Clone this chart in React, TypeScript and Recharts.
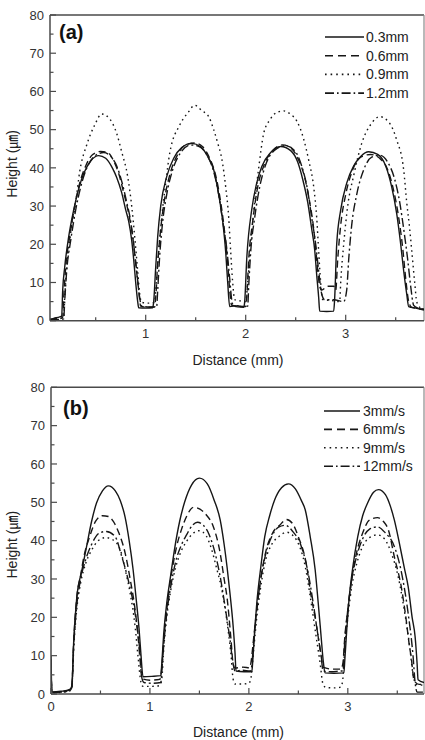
import React from 'react';
import { LineChart, Line, XAxis, YAxis, ReferenceLine, Legend, Label } from 'recharts';

type P = [number, number];

const FONT = "'Liberation Sans', Arial, 'Noto Sans CJK KR', sans-serif";

const xAxisTitle = 'Distance (mm)';
const yAxisTitle = 'Height (㎛)';
const panelATag = '(a)';
const panelBTag = '(b)';
const aNames = ['0.3mm', '0.6mm', '0.9mm', '1.2mm'];
const bNames = ['3mm/s', '6mm/s', '9mm/s', '12mm/s'];
const yTicks = [0, 5, 10, 15, 20, 25, 30, 35, 40, 45, 50, 55, 60, 65, 70, 75, 80];
const aXTicks = [0.5, 1, 1.5, 2, 2.5, 3, 3.5];
const bXTicks = [0, 0.5, 1, 1.5, 2, 2.5, 3, 3.5];
const aXDomain: [number, number] = [0.043, 3.783];
const bXDomain: [number, number] = [0, 3.77];

// Panel (a): layer thickness
const a03: P[] = [
  [0.043, 0.3], [0.08, 0.6], [0.14, 1.0], [0.16, 1.2], [0.17, 8], [0.19, 14], [0.23, 22], [0.28, 29], [0.33, 34.5], [0.38, 38.5], [0.45, 41.8], [0.53, 43.2], [0.6, 42.5], [0.67, 39.8], [0.71, 37.5], [0.76, 33.5], [0.8, 29], [0.83, 26], [0.86, 21], [0.88, 16], [0.9, 10], [0.92, 5], [0.93, 3.4], [1.0, 3.3], [1.07, 3.4],
  [1.08, 5], [1.1, 14], [1.12, 22], [1.15, 30], [1.21, 37.7], [1.28, 42.5], [1.36, 45.3], [1.46, 46.4], [1.55, 45.5], [1.62, 43], [1.68, 39.5], [1.73, 33], [1.77, 26], [1.8, 18], [1.82, 10], [1.84, 3.7], [1.92, 3.9], [1.98, 3.5],
  [1.99, 5], [2.01, 16], [2.06, 29], [2.11, 36], [2.16, 40.3], [2.25, 44], [2.35, 45.6], [2.45, 44.5], [2.52, 41.5], [2.57, 37], [2.62, 31], [2.66, 24], [2.69, 18.5], [2.71, 12], [2.73, 6], [2.74, 2.5], [2.81, 2.4], [2.88, 2.5],
  [2.89, 6], [2.91, 20], [2.95, 29], [3.01, 36], [3.08, 40.5], [3.15, 43], [3.23, 44.2], [3.32, 43.5], [3.4, 40.5], [3.46, 35], [3.51, 28], [3.55, 20], [3.58, 13], [3.61, 7], [3.63, 3.7], [3.7, 3.3], [3.783, 2.8],
];
const a06: P[] = [
  [0.043, 0.3], [0.1, 0.6], [0.17, 0.8], [0.18, 6], [0.2, 14], [0.24, 22], [0.29, 30], [0.34, 36], [0.4, 40.5], [0.47, 43.5], [0.55, 44.3], [0.62, 44], [0.68, 41.8], [0.73, 38.5], [0.78, 33.5], [0.83, 28], [0.87, 22], [0.9, 15], [0.93, 8], [0.95, 3.8], [1.02, 3.5], [1.09, 3.6],
  [1.1, 6], [1.12, 15], [1.15, 24], [1.19, 32], [1.25, 39], [1.32, 43.5], [1.4, 46], [1.49, 46.5], [1.57, 45.5], [1.64, 42.5], [1.7, 38], [1.75, 31], [1.79, 23], [1.82, 15], [1.84, 8], [1.86, 4], [1.93, 3.8], [2.0, 3.7],
  [2.01, 6], [2.03, 16], [2.07, 26], [2.12, 35], [2.18, 40.5], [2.27, 44.5], [2.37, 46], [2.46, 45], [2.53, 42], [2.59, 37.5], [2.64, 31], [2.68, 24], [2.71, 16], [2.74, 9], [2.76, 8], [2.82, 9], [2.88, 9], [2.9, 8],
  [2.92, 16], [2.95, 25], [3.0, 33], [3.07, 39.5], [3.15, 42.8], [3.25, 43.5], [3.34, 42.5], [3.42, 39.5], [3.48, 34], [3.53, 27], [3.57, 19], [3.6, 11], [3.63, 5], [3.66, 3.5], [3.783, 3],
];
const a09: P[] = [
  [0.043, 0.3], [0.12, 0.5], [0.18, 0.8], [0.19, 6], [0.21, 14], [0.25, 23], [0.3, 31], [0.34, 39], [0.41, 46], [0.49, 51.2], [0.56, 54.1], [0.64, 52.8], [0.71, 49], [0.76, 44.2], [0.82, 37.7], [0.86, 30], [0.89, 22], [0.92, 13], [0.94, 7], [0.96, 4.8], [1.03, 4.6], [1.09, 4.8],
  [1.1, 8], [1.13, 18], [1.16, 27], [1.2, 36], [1.24, 43.8], [1.34, 51.2], [1.43, 54.7], [1.49, 56.4], [1.56, 55], [1.63, 53.4], [1.68, 50], [1.72, 46.5], [1.76, 42.5], [1.8, 35], [1.83, 27], [1.85, 18], [1.87, 10], [1.89, 5.5], [1.94, 5.2], [2.0, 5],
  [2.02, 10], [2.05, 20], [2.09, 31], [2.13, 40], [2.18, 49], [2.24, 52.5], [2.31, 54.5], [2.38, 54.9], [2.45, 54], [2.51, 52.3], [2.58, 47.5], [2.63, 42], [2.68, 35], [2.71, 27], [2.73, 18], [2.75, 10], [2.77, 5.5], [2.85, 5.3], [2.94, 5],
  [2.95, 10], [2.98, 20], [3.02, 30], [3.08, 38], [3.16, 46.4], [3.26, 51.7], [3.34, 53.4], [3.43, 52], [3.51, 47.3], [3.58, 39.4], [3.61, 31], [3.64, 24], [3.66, 18.5], [3.69, 10], [3.71, 5], [3.74, 3.5], [3.783, 3],
];
const a12: P[] = [
  [0.043, 0.2], [0.12, 0.3], [0.18, 0.5], [0.19, 5], [0.21, 13], [0.25, 21], [0.3, 29], [0.35, 35], [0.42, 40.5], [0.5, 43.3], [0.58, 44], [0.65, 43], [0.71, 40.5], [0.76, 36.5], [0.81, 31], [0.85, 26], [0.88, 20], [0.91, 13], [0.94, 6], [0.96, 3.8], [1.04, 3.6], [1.11, 3.8],
  [1.12, 8], [1.14, 17], [1.17, 26], [1.21, 33], [1.27, 39.5], [1.35, 44], [1.45, 46], [1.54, 45.5], [1.62, 43], [1.68, 39], [1.73, 33], [1.77, 26], [1.81, 19], [1.84, 11], [1.86, 5.5], [1.88, 3.8], [1.95, 3.6], [2.02, 3.8],
  [2.03, 9], [2.05, 18], [2.09, 27], [2.14, 35], [2.21, 41.5], [2.3, 44.8], [2.4, 45.8], [2.49, 44.5], [2.56, 40.5], [2.62, 34], [2.66, 27], [2.7, 20], [2.73, 13], [2.76, 7], [2.79, 5.5], [2.88, 5.5], [2.98, 5], [3.01, 8],
  [3.03, 16], [3.06, 25], [3.11, 33], [3.18, 39.5], [3.26, 42.8], [3.34, 43.3], [3.42, 41.5], [3.49, 37], [3.54, 31], [3.58, 24], [3.62, 16], [3.65, 9], [3.68, 4], [3.72, 3.3], [3.783, 3],
];

// Panel (b): scan speed
const b3: P[] = [
  [0, 10], [0.005, 3], [0.01, 0.5], [0.1, 0.7], [0.19, 1.2], [0.21, 2], [0.23, 14], [0.26, 25], [0.31, 32], [0.36, 38.5], [0.41, 45], [0.46, 49.8], [0.52, 53], [0.58, 54.3], [0.65, 53], [0.7, 50.5], [0.75, 46], [0.79, 40], [0.83, 32.4], [0.86, 25], [0.89, 17], [0.91, 10], [0.93, 4.5], [1.02, 4.6], [1.11, 4.8],
  [1.12, 8], [1.14, 16], [1.17, 23.7], [1.21, 31], [1.25, 38], [1.3, 45], [1.35, 50], [1.42, 54.5], [1.5, 56.3], [1.58, 54.8], [1.65, 50.5], [1.71, 45.4], [1.75, 39], [1.78, 33], [1.81, 26], [1.84, 18], [1.86, 10.7], [1.87, 6], [1.95, 5.8], [2.03, 5.8],
  [2.04, 9], [2.06, 17], [2.08, 23.7], [2.12, 33], [2.16, 41], [2.21, 46.5], [2.26, 50.6], [2.33, 53.8], [2.4, 54.8], [2.47, 53.5], [2.53, 50.5], [2.57, 48], [2.62, 41], [2.67, 32.4], [2.7, 24], [2.73, 15], [2.75, 9], [2.77, 5.5], [2.86, 5.4], [2.96, 5.5],
  [2.97, 9], [2.99, 17], [3.01, 24], [3.05, 33], [3.1, 41], [3.15, 46.5], [3.2, 49.8], [3.26, 52.6], [3.31, 53.3], [3.38, 52], [3.43, 49], [3.47, 45.4], [3.52, 39.5], [3.57, 33], [3.61, 28], [3.65, 20], [3.68, 15], [3.7, 8], [3.71, 3.7], [3.77, 3],
];
const b6: P[] = [
  [0, 9], [0.005, 3], [0.01, 0.5], [0.1, 0.6], [0.19, 1], [0.21, 2], [0.23, 14], [0.26, 25], [0.3, 31], [0.33, 35.5], [0.39, 41], [0.45, 45], [0.52, 46.5], [0.58, 46.3], [0.63, 45], [0.68, 42.4], [0.75, 36.7], [0.8, 30], [0.85, 22], [0.88, 15], [0.9, 9], [0.92, 4], [1.0, 3.6], [1.1, 3.8],
  [1.12, 7], [1.14, 14], [1.17, 22], [1.21, 30], [1.27, 38.5], [1.32, 43], [1.37, 46.3], [1.44, 48.7], [1.5, 48.3], [1.57, 46.7], [1.64, 43.7], [1.71, 36.7], [1.75, 30], [1.78, 25], [1.82, 14], [1.84, 8], [1.86, 6.8], [1.94, 7], [2.01, 6.8],
  [2.02, 8], [2.05, 15], [2.08, 22], [2.12, 30], [2.17, 37], [2.24, 42], [2.31, 44], [2.38, 45.5], [2.44, 44.5], [2.5, 41], [2.58, 34], [2.63, 25.4], [2.67, 20], [2.7, 15], [2.73, 10], [2.75, 7], [2.84, 6.5], [2.93, 6.5],
  [2.95, 8], [2.97, 15], [3.0, 22], [3.04, 30], [3.09, 37], [3.15, 42], [3.22, 45.4], [3.3, 46], [3.36, 45], [3.41, 42.8], [3.47, 35.8], [3.54, 28], [3.59, 19.3], [3.62, 13], [3.64, 9.7], [3.67, 3.5], [3.72, 2.5], [3.77, 2.5],
];
const b9: P[] = [
  [0, 8], [0.005, 2], [0.01, 0.3], [0.1, 0.4], [0.19, 0.8], [0.21, 1.5], [0.23, 12], [0.26, 22], [0.3, 29], [0.35, 34], [0.41, 37.5], [0.47, 39.8], [0.55, 40.8], [0.62, 40.3], [0.7, 37.6], [0.75, 32.4], [0.8, 26.3], [0.85, 17.6], [0.88, 9.7], [0.91, 3], [0.93, 2], [1.02, 2], [1.1, 2.2],
  [1.12, 4], [1.14, 12], [1.17, 20], [1.21, 27], [1.26, 33], [1.32, 37.5], [1.37, 39.8], [1.44, 42], [1.5, 42.6], [1.57, 41.2], [1.62, 38], [1.67, 33.2], [1.74, 25.4], [1.79, 16.7], [1.82, 10], [1.84, 4], [1.86, 2.6], [1.93, 2.6], [2.0, 2.8],
  [2.02, 4], [2.05, 12], [2.08, 20], [2.12, 28], [2.17, 35], [2.23, 39], [2.3, 41], [2.38, 42.2], [2.44, 41.5], [2.48, 40.2], [2.57, 33.2], [2.62, 25.4], [2.67, 16.7], [2.72, 8], [2.75, 2.5], [2.78, 1.7], [2.86, 1.6], [2.93, 1.8],
  [2.95, 4], [2.97, 12], [3.0, 20], [3.04, 28], [3.09, 34], [3.15, 38.5], [3.22, 40.8], [3.3, 41.5], [3.37, 40.5], [3.44, 36.7], [3.51, 30.5], [3.57, 22], [3.62, 13.5], [3.66, 5], [3.69, 2.5], [3.77, 2.3],
];
const b12: P[] = [
  [0, 9], [0.005, 2], [0.01, 0.4], [0.1, 0.5], [0.19, 0.9], [0.21, 1.6], [0.23, 13], [0.26, 23], [0.3, 30], [0.35, 35], [0.41, 39], [0.49, 42], [0.56, 42.4], [0.65, 41], [0.71, 36.3], [0.78, 29.8], [0.85, 21], [0.9, 10.6], [0.92, 4], [0.94, 3], [1.03, 2.8], [1.11, 3],
  [1.12, 6], [1.14, 13], [1.17, 21], [1.21, 28], [1.26, 34.5], [1.32, 39], [1.37, 41.5], [1.43, 44], [1.48, 44.8], [1.54, 44], [1.6, 41.5], [1.64, 38.5], [1.71, 30.6], [1.77, 21], [1.81, 14], [1.84, 8], [1.86, 6], [1.94, 6.2], [2.01, 6],
  [2.02, 6], [2.05, 14], [2.08, 22], [2.12, 30], [2.17, 36.5], [2.23, 41], [2.3, 43.5], [2.37, 44], [2.44, 42.5], [2.53, 38.5], [2.6, 31.5], [2.65, 23.7], [2.7, 15], [2.73, 10], [2.75, 6], [2.84, 5.8], [2.93, 6],
  [2.95, 6], [2.97, 14], [3.0, 22], [3.04, 30], [3.09, 36], [3.15, 40.5], [3.22, 43], [3.3, 43.6], [3.38, 42], [3.47, 38.5], [3.54, 32], [3.61, 21], [3.66, 9.7], [3.68, 3], [3.7, 0.5], [3.77, 0.5],
];

const aSeries = [a03, a06, a09, a12];
const bSeries = [b3, b6, b9, b12];

const plotDash = ['', '7 4', '1.6 3.6', '9 3 2 3'];
const legendDash = ['', '8 5', '1.6 4', '9 3 1.6 3'];
const AXIS = '#4a4a4a';
const INK = '#161616';

const toObj = (pts: P[]) => pts.map(([x, y]) => ({ x, y }));

const XTick = (props: any) => {
  const { x, y, payload } = props;
  const v = payload.value;
  const major = Math.abs(v - Math.round(v)) < 1e-6;
  return (
    <g>
      <line x1={x} x2={x} y1={y} y2={y - (major ? 6 : 3.5)} stroke={AXIS} strokeWidth={1.2} />
      {major && (
        <text x={x} y={y + 17.4} textAnchor="middle" fontSize={13} fill="#333" fontFamily={FONT}>
          {v}
        </text>
      )}
    </g>
  );
};

const YTick = (props: any) => {
  const { x, y, payload } = props;
  const v = payload.value;
  const major = v % 10 === 0;
  return (
    <g>
      <line x1={x} x2={x + (major ? 6 : 3.5)} y1={y} y2={y} stroke={AXIS} strokeWidth={1.2} />
      {major && (
        <text x={x - 6} y={y + 4.7} textAnchor="end" fontSize={13} fill="#333" fontFamily={FONT}>
          {v}
        </text>
      )}
    </g>
  );
};

const makeLegend = (names: string[], cfg: { x1: number; x2: number; tx: number; gap: number }) => () => (
  <svg width={100} height={80} style={{ display: 'block', overflow: 'visible' }}>
    {names.map((n, i) => {
      const cy = 10 + i * cfg.gap;
      return (
        <g key={n}>
          <line x1={cfg.x1} x2={cfg.x2} y1={cy} y2={cy} stroke={INK} strokeWidth={1.6} strokeDasharray={legendDash[i]} />
          <text x={cfg.tx} y={cy + 5} fontSize={14} fill="#222" fontFamily={FONT}>
            {n}
          </text>
        </g>
      );
    })}
  </svg>
);

type PanelProps = {
  series: P[][];
  names: string[];
  tag: string;
  xTicks: number[];
  xDomain: [number, number];
  margin: { top: number; right: number; bottom: number; left: number };
  yAxisWidth: number;
  xAxisHeight: number;
  yLabelShift: number;
  xLabelDy: number;
  tagDx: number;
  tagDy: number;
  legendPos: { left: number; top: number };
  legendCfg: { x1: number; x2: number; tx: number; gap: number };
};

const Panel = (p: PanelProps) => (
  <LineChart width={425} height={370} margin={p.margin}>
    <XAxis
      dataKey="x"
      type="number"
      domain={p.xDomain}
      allowDataOverflow
      ticks={p.xTicks}
      interval={0}
      tick={<XTick />}
      tickLine={false}
      tickSize={0}
      tickMargin={0}
      height={p.xAxisHeight}
      axisLine={{ stroke: AXIS, strokeWidth: 1.5 }}
    >
      <Label
        content={(lp: any) => {
          const vb = lp.viewBox || { x: 0, y: 0, width: 0 };
          return (
            <text x={vb.x + vb.width / 2 + 1} y={vb.y + p.xLabelDy} textAnchor="middle" fontSize={14} fill="#222" fontFamily={FONT}>
              {xAxisTitle}
            </text>
          );
        }}
      />
    </XAxis>
    <YAxis
      type="number"
      domain={[0, 80]}
      ticks={yTicks}
      interval={0}
      tick={<YTick />}
      tickLine={false}
      tickSize={0}
      tickMargin={0}
      width={p.yAxisWidth}
      axisLine={{ stroke: AXIS, strokeWidth: 1.5 }}
    >
      <Label
        content={(lp: any) => {
          const vb = lp.viewBox || { x: 0, y: 0, height: 0 };
          const cy = vb.y + vb.height / 2 + p.yLabelShift;
          return (
            <text transform={`translate(12, ${cy}) rotate(-90)`} textAnchor="middle" dy="0.35em" fontSize={14} fill="#222" fontFamily={FONT}>
              {yAxisTitle}
            </text>
          );
        }}
      />
    </YAxis>
    <ReferenceLine
      y={80}
      stroke={AXIS}
      strokeWidth={1.5}
      label={
        <Label
          content={(lp: any) => {
            const vb = lp.viewBox || { x: 0, y: 0 };
            return (
              <text x={vb.x + p.tagDx} y={vb.y + p.tagDy} fontSize={20} fontWeight="bold" fill="#111" fontFamily={FONT}>
                {p.tag}
              </text>
            );
          }}
        />
      }
    />
    <ReferenceLine x={p.xDomain[1]} stroke="#8a8a8a" strokeWidth={1.2} />
    {p.series.map((s, i) => (
      <Line
        key={p.names[i]}
        name={p.names[i]}
        data={toObj(s)}
        dataKey="y"
        type="monotone"
        stroke={INK}
        strokeWidth={1.4}
        strokeDasharray={plotDash[i]}
        dot={false}
        activeDot={false}
        isAnimationActive={false}
      />
    ))}
    <Legend
      layout="vertical"
      align="center"
      verticalAlign="middle"
      content={makeLegend(p.names, p.legendCfg)}
      wrapperStyle={{ left: p.legendPos.left, top: p.legendPos.top, width: 100, height: 80 }}
    />
  </LineChart>
);

export default function App() {
  return (
    <div style={{ position: 'absolute', left: 0, top: 0, width: 425, height: 740, background: '#fff', overflow: 'hidden' }}>
      <div style={{ position: 'absolute', left: 0, top: 0 }}>
        <Panel
          series={aSeries}
          names={aNames}
          tag={panelATag}
          xTicks={aXTicks}
          xDomain={aXDomain}
          margin={{ top: 15, right: 1, bottom: 0.3, left: 0 }}
          yAxisWidth={50}
          xAxisHeight={49}
          yLabelShift={-4}
          xLabelDy={44}
          tagDx={9}
          tagDy={24}
          legendPos={{ left: 322, top: 26.7 }}
          legendCfg={{ x1: 3, x2: 42, tx: 44, gap: 18.7 }}
        />
      </div>
      <div style={{ position: 'absolute', left: 0, top: 370 }}>
        <Panel
          series={bSeries}
          names={bNames}
          tag={panelBTag}
          xTicks={bXTicks}
          xDomain={bXDomain}
          margin={{ top: 17.3, right: 1, bottom: 0, left: 0 }}
          yAxisWidth={51}
          xAxisHeight={46}
          yLabelShift={4}
          xLabelDy={42.5}
          tagDx={12}
          tagDy={28}
          legendPos={{ left: 322, top: 30.7 }}
          legendCfg={{ x1: 2, x2: 38, tx: 41, gap: 18.4 }}
        />
      </div>
    </div>
  );
}
